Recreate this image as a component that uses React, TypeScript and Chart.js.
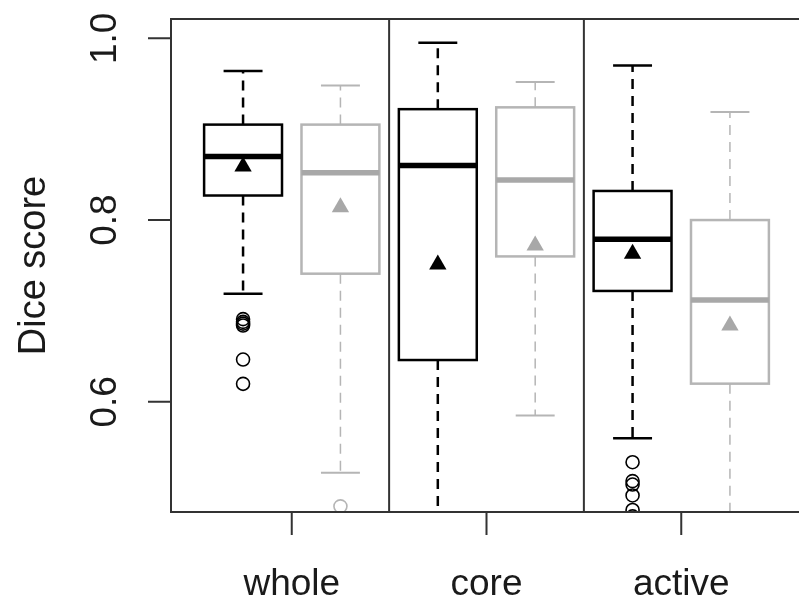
import React, { useEffect, useRef } from "react";
import { Chart, registerables } from "chart.js";

Chart.register(...registerables);

// ---- data ----
const categories = ["whole", "core", "active"];
const categoryPositions = [1.5, 3.5, 5.5];
const separatorPositions = [2.5, 4.5];
const boxPositions = [1, 2, 3, 4, 5, 6];
const boxSeries = [0, 1, 0, 1, 0, 1]; // 0 = black series, 1 = gray series
const whiskerLow = [0.719, 0.522, 0.4, 0.585, 0.56, 0.42];
const q1 = [0.827, 0.741, 0.646, 0.76, 0.722, 0.62];
const medians = [0.87, 0.852, 0.86, 0.844, 0.779, 0.712];
const q3 = [0.905, 0.905, 0.922, 0.924, 0.832, 0.8];
const whiskerHigh = [0.964, 0.948, 0.995, 0.952, 0.97, 0.919];
const means = [0.859, 0.814, 0.751, 0.772, 0.763, 0.684];
const outliers: number[][] = [
  [0.691, 0.688, 0.686, 0.684, 0.6465, 0.6198],
  [0.485],
  [],
  [],
  [0.5336, 0.5128, 0.509, 0.497, 0.481, 0.474],
  [],
];
const yTicks = [0.6, 0.8, 1.0];
const yTickLabels = ["0.6", "0.8", "1.0"];
const yTitle = "Dice score";
const xMin = 0.26;
const xMax = 6.74;
const yMin = 0.4788;
const yMax = 1.0212;

// ---- styles ----
const seriesStroke = ["#000000", "#b5b5b5"];
const seriesMedian = ["#000000", "#a8a8a8"];
const seriesFill = ["#000000", "#a8a8a8"];
const whiskerWidth = [2.5, 1.5];
const capWidth = [2.5, 2];
const FONT = '"Liberation Sans", Arial, sans-serif';
const TEXT_COLOR = "#1a1a1a";
const FRAME_COLOR = "#333333";
const CANVAS_W = 812;
const CANVAS_H = 600;

const boxPlugin = {
  id: "boxDraw",
  beforeDatasetsDraw(chart: any) {
    const { ctx, chartArea, scales } = chart;
    const xs = scales.x;
    const ys = scales.y;
    ctx.save();
    ctx.beginPath();
    ctx.rect(chartArea.left, chartArea.top, chartArea.right - chartArea.left, chartArea.bottom - chartArea.top);
    ctx.clip();
    boxPositions.forEach((pos, i) => {
      const s = boxSeries[i];
      const xl = xs.getPixelForValue(pos - 0.4);
      const xr = xs.getPixelForValue(pos + 0.4);
      const xc = xs.getPixelForValue(pos);
      const cl = xs.getPixelForValue(pos - 0.2);
      const cr = xs.getPixelForValue(pos + 0.2);
      const yq1 = ys.getPixelForValue(q1[i]);
      const yq3 = ys.getPixelForValue(q3[i]);
      const ymed = ys.getPixelForValue(medians[i]);
      const ylo = ys.getPixelForValue(whiskerLow[i]);
      const yhi = ys.getPixelForValue(whiskerHigh[i]);
      // whiskers
      ctx.strokeStyle = seriesStroke[s];
      ctx.lineWidth = whiskerWidth[s];
      ctx.setLineDash([10, 7]);
      ctx.beginPath();
      ctx.moveTo(xc, yq3);
      ctx.lineTo(xc, yhi);
      ctx.moveTo(xc, yq1);
      ctx.lineTo(xc, ylo);
      ctx.stroke();
      ctx.setLineDash([]);
      // caps
      ctx.lineWidth = capWidth[s];
      ctx.beginPath();
      ctx.moveTo(cl, yhi);
      ctx.lineTo(cr, yhi);
      ctx.moveTo(cl, ylo);
      ctx.lineTo(cr, ylo);
      ctx.stroke();
      // box
      ctx.fillStyle = "#ffffff";
      ctx.fillRect(xl, yq3, xr - xl, yq1 - yq3);
      ctx.lineWidth = 2.5;
      ctx.strokeRect(xl, yq3, xr - xl, yq1 - yq3);
      // median
      ctx.strokeStyle = seriesMedian[s];
      ctx.lineWidth = 5.5;
      ctx.beginPath();
      ctx.moveTo(xl, ymed);
      ctx.lineTo(xr, ymed);
      ctx.stroke();
    });
    ctx.restore();
  },
  afterDraw(chart: any) {
    const { ctx, chartArea, scales } = chart;
    const xs = scales.x;
    const ys = scales.y;
    ctx.save();
    ctx.strokeStyle = FRAME_COLOR;
    ctx.lineWidth = 2;
    ctx.strokeRect(chartArea.left, chartArea.top, chartArea.right - chartArea.left, chartArea.bottom - chartArea.top);
    // separators
    ctx.beginPath();
    separatorPositions.forEach((p) => {
      const x = xs.getPixelForValue(p);
      ctx.moveTo(x, chartArea.top);
      ctx.lineTo(x, chartArea.bottom);
    });
    ctx.stroke();
    // ticks
    ctx.beginPath();
    yTicks.forEach((v) => {
      const y = ys.getPixelForValue(v);
      ctx.moveTo(chartArea.left, y);
      ctx.lineTo(chartArea.left - 23, y);
    });
    categoryPositions.forEach((p) => {
      const x = xs.getPixelForValue(p);
      ctx.moveTo(x, chartArea.bottom);
      ctx.lineTo(x, chartArea.bottom + 23);
    });
    ctx.stroke();
    // labels
    ctx.fillStyle = TEXT_COLOR;
    ctx.font = `37px ${FONT}`;
    ctx.textAlign = "center";
    ctx.textBaseline = "alphabetic";
    categories.forEach((c, i) => {
      const x = xs.getPixelForValue(categoryPositions[i]);
      ctx.fillText(c, x, chartArea.bottom + 83);
    });
    yTicks.forEach((v, i) => {
      const y = ys.getPixelForValue(v);
      ctx.save();
      ctx.translate(chartArea.left - 55, y);
      ctx.rotate(-Math.PI / 2);
      ctx.fillText(yTickLabels[i], 0, 0);
      ctx.restore();
    });
    ctx.save();
    ctx.font = `38px ${FONT}`;
    ctx.translate(45, (chartArea.top + chartArea.bottom) / 2 + 0);
    ctx.rotate(-Math.PI / 2);
    ctx.fillText(yTitle, 0, 0);
    ctx.restore();
    ctx.restore();
  },
};

function buildPoints(values: number[], series: number) {
  const pts: { x: number; y: number }[] = [];
  values.forEach((v, i) => {
    if (boxSeries[i] === series) pts.push({ x: boxPositions[i], y: v });
  });
  return pts;
}

function buildOutliers(series: number) {
  const pts: { x: number; y: number }[] = [];
  outliers.forEach((list, i) => {
    if (boxSeries[i] === series) list.forEach((v) => pts.push({ x: boxPositions[i], y: v }));
  });
  return pts;
}

export default function App() {
  const ref = useRef<HTMLCanvasElement | null>(null);
  useEffect(() => {
    if (!ref.current) return;
    const chart = new Chart(ref.current, {
      type: "scatter",
      data: {
        datasets: [
          {
            label: "outliers black",
            data: buildOutliers(0),
            pointStyle: "circle",
            pointRadius: 6.5,
            pointBorderWidth: 1.6,
            pointBorderColor: seriesStroke[0],
            pointBackgroundColor: "rgba(0,0,0,0)",
          },
          {
            label: "outliers gray",
            data: buildOutliers(1),
            pointStyle: "circle",
            pointRadius: 6.5,
            pointBorderWidth: 1.6,
            pointBorderColor: seriesStroke[1],
            pointBackgroundColor: "rgba(0,0,0,0)",
          },
          {
            label: "mean black",
            data: buildPoints(means, 0),
            pointStyle: "triangle",
            pointRadius: 10,
            pointBorderWidth: 0,
            pointBackgroundColor: seriesFill[0],
          },
          {
            label: "mean gray",
            data: buildPoints(means, 1),
            pointStyle: "triangle",
            pointRadius: 10,
            pointBorderWidth: 0,
            pointBackgroundColor: seriesFill[1],
          },
        ],
      },
      options: {
        responsive: false,
        animation: false,
        devicePixelRatio: 1,
        layout: { padding: { left: 171, top: 19, right: CANVAS_W - 802, bottom: CANVAS_H - 512 } },
        plugins: { legend: { display: false }, tooltip: { enabled: false } },
        scales: {
          x: { type: "linear", min: xMin, max: xMax, display: false },
          y: { type: "linear", min: yMin, max: yMax, display: false },
        },
      },
      plugins: [boxPlugin],
    } as any);
    return () => chart.destroy();
  }, []);
  return (
    <div style={{ position: "fixed", left: 0, top: 0, width: 799, height: 600, overflow: "hidden", background: "#fff" }}>
      <canvas ref={ref} width={CANVAS_W} height={CANVAS_H} style={{ width: CANVAS_W, height: CANVAS_H, display: "block" }} />
    </div>
  );
}
